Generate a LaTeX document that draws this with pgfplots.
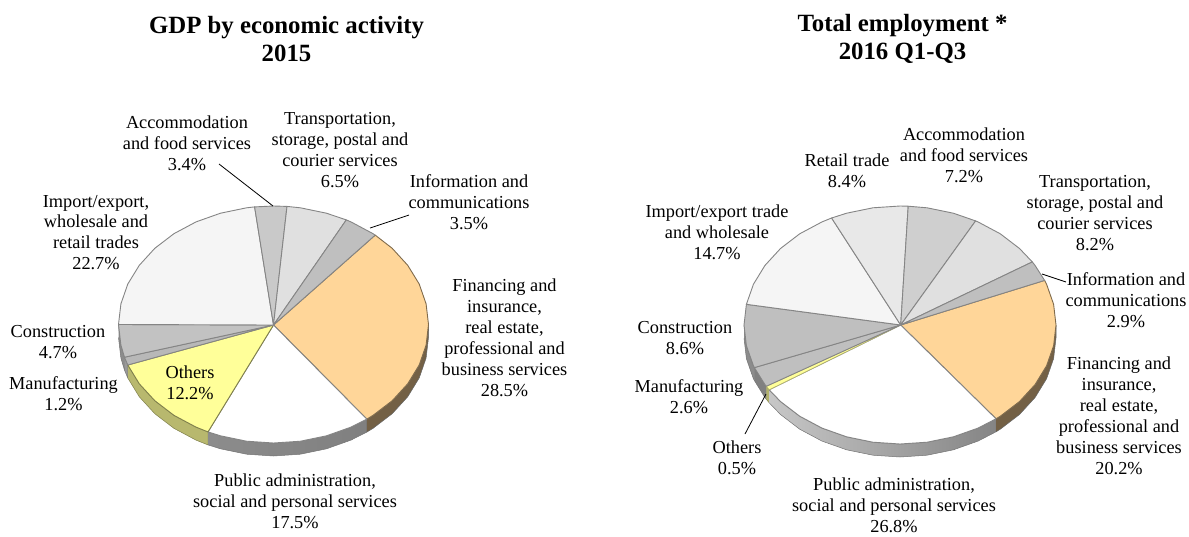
\documentclass[border=0pt]{standalone}
\usepackage{fontspec}
\setmainfont{Liberation Serif}
\usepackage{pgfplots}
\pgfplotsset{compat=1.18}
\definecolor{cfin}{HTML}{FFD699}
\definecolor{coth}{HTML}{FFFF99}
\tikzset{lab/.style={align=center,font=\fontsize{18.3}{20.9}\selectfont,inner sep=0pt,anchor=center},
  ttl/.style={align=center,font=\fontsize{24.8}{28}\selectfont\bfseries,inner sep=0pt,anchor=center}}
\pgfplotsset{face/.style={fill=#1,draw=black!48,line width=0.9pt,line join=round},
  rim/.style={draw=black!55,line width=0.5pt,line join=round}}
\begin{document}
\begin{tikzpicture}
\path[use as bounding box] (0,0) rectangle (1189pt,536pt);
\begin{axis}[width=1189pt,height=536pt,scale only axis,at={(0,0)},anchor=south west,
  xmin=0,xmax=1189,ymin=0,ymax=536,y dir=reverse,hide axis,clip=false]
% --- left pie: side wall
\addplot[rim,fill=black!45] coordinates {(118.5,324.5)(120.9,345.1)(124.5,357.2)(124.5,370.2)(120.9,358.1)(118.5,337.5)};
\addplot[rim,fill=black!40] coordinates {(124.5,357.2)(127.8,365)(127.8,378)(124.5,370.2)};
\addplot[draw=black!50!coth,line width=0.5pt,fill=coth!72!black] coordinates {(127.8,365)(139.3,383.8)(154.8,400.7)(173.9,415.3)(196,427.1)(208,431.9)(208,444.9)(196,440.1)(173.9,428.3)(154.8,413.7)(139.3,396.8)(127.8,378)};
\addplot[rim,shade,left color=black!45,middle color=black!65,right color=black!50] coordinates {(208,431.9)(220.5,435.8)(246.6,441.2)(273.5,443)(300.4,441.2)(326.5,435.8)(351,427.1)(366.8,419.1)(366.8,432.1)(351,440.1)(326.5,448.8)(300.4,454.2)(273.5,456)(246.6,454.2)(220.5,448.8)(208,444.9)};
\addplot[draw=black!60,line width=0.5pt,fill=cfin!45!black] coordinates {(366.8,419.1)(373.1,415.3)(392.2,400.7)(407.7,383.8)(419.2,365)(426.1,345.1)(428.5,324.5)(428.5,337.5)(426.1,358.1)(419.2,378)(407.7,396.8)(392.2,413.7)(373.1,428.3)(366.8,432.1)};
% --- left pie: top faces
\addplot[face=cfin,draw=cfin!50!black] coordinates {(273.5,325)(375.2,235.1)(392.2,248.3)(407.7,265.3)(419.2,284)(426.1,303.9)(428.5,324.5)(426.1,345.1)(419.2,365)(407.7,383.8)(392.2,400.7)(373.1,415.3)(366.8,419.1)(273.5,325)};
\addplot[face=white] coordinates {(273.5,325)(366.8,419.1)(351,427.1)(326.5,435.8)(300.4,441.2)(273.5,443)(246.6,441.2)(220.5,435.8)(208,431.9)(273.5,325)};
\addplot[face=coth,draw=coth!50!black] coordinates {(273.5,325)(208,431.9)(196,427.1)(173.9,415.3)(154.8,400.7)(139.3,383.8)(127.8,365)(273.5,325)};
\addplot[face=black!28] coordinates {(273.5,325)(127.8,365)(124.5,357.2)(273.5,325)};
\addplot[face=black!24] coordinates {(273.5,325)(124.5,357.2)(120.9,345.1)(118.5,324.5)(273.5,325)};
\addplot[face=black!4] coordinates {(273.5,325)(118.5,324.5)(120.9,303.9)(127.8,284)(139.3,265.3)(154.8,248.3)(173.9,233.7)(196,221.9)(220.5,213.2)(246.6,207.8)(254.6,206.9)(273.5,325)};
\addplot[face=black!21] coordinates {(273.5,325)(254.6,206.9)(273.5,206)(287,206.4)(273.5,325)};
\addplot[face=black!12] coordinates {(273.5,325)(287,206.4)(300.4,207.8)(326.5,213.2)(346.3,219.9)(273.5,325)};
\addplot[face=black!25] coordinates {(273.5,325)(346.3,219.9)(351,221.9)(373.1,233.7)(375.2,235.1)(273.5,325)};
% --- right pie: side wall
\addplot[rim,fill=black!45] coordinates {(744,325)(746.4,345.7)(753.4,365.7)(754.4,367.6)(754.4,380.6)(753.4,378.7)(746.4,358.7)(744,338)};
\addplot[rim,fill=black!50] coordinates {(754.4,367.6)(764.9,384.5)(766.3,386.3)(766.3,399.3)(764.9,397.5)(754.4,380.6)};
\addplot[draw=black!50!coth,line width=0.4pt,fill=coth!70!black] coordinates {(766.3,386.3)(769.2,389.8)(769.2,402.8)(766.3,399.3)};
\addplot[rim,shade,left color=black!22,middle color=black!62,right color=black!48] coordinates {(769.2,389.8)(780.5,401.5)(799.7,416.2)(822,428.1)(846.6,436.8)(872.9,442.2)(900,444)(927.1,442.2)(953.4,436.8)(978,428.1)(996,418.8)(996,431.8)(978,441.1)(953.4,449.8)(927.1,455.2)(900,457)(872.9,455.2)(846.6,449.8)(822,441.1)(799.7,429.2)(780.5,414.5)(769.2,402.8)};
\addplot[draw=black!60,line width=0.5pt,fill=cfin!45!black] coordinates {(996,418.8)(1000.3,416.2)(1019.5,401.5)(1035.1,384.5)(1046.6,365.7)(1053.6,345.7)(1056,325)(1056,338)(1053.6,358.7)(1046.6,378.7)(1035.1,397.5)(1019.5,414.5)(1000.3,429.2)(996,431.8)};
% --- right pie: top faces
\addplot[face=cfin,draw=cfin!50!black] coordinates {(900.7,325)(1044.6,280.4)(1046.6,284.3)(1053.6,304.3)(1056,325)(1053.6,345.7)(1046.6,365.7)(1035.1,384.5)(1019.5,401.5)(1000.3,416.2)(996,418.8)(900.7,325)};
\addplot[face=white] coordinates {(900.7,325)(996,418.8)(978,428.1)(953.4,436.8)(927.1,442.2)(900,444)(872.9,442.2)(846.6,436.8)(822,428.1)(799.7,416.2)(780.5,401.5)(769.2,389.8)(900.7,325)};
\addplot[fill=coth,draw=black!30!coth,line width=0.6pt] coordinates {(900.7,325)(769.2,389.8)(766.3,386.3)(900.7,325)};
\addplot[face=black!25] coordinates {(900.7,325)(766.3,386.3)(764.9,384.5)(754.4,367.6)(900.7,325)};
\addplot[face=black!25] coordinates {(900.7,325)(754.4,367.6)(753.4,365.7)(746.4,345.7)(744,325)(746.4,304.3)(900.7,325)};
\addplot[face=black!4] coordinates {(900.7,325)(746.4,304.3)(753.4,284.3)(764.9,265.5)(780.5,248.5)(799.7,233.8)(822,221.9)(831.6,218)(900.7,325)};
\addplot[face=black!9] coordinates {(900.7,325)(831.6,218)(846.6,213.2)(872.9,207.8)(900,206)(908.2,206.2)(900.7,325)};
\addplot[face=black!19] coordinates {(900.7,325)(908.2,206.2)(927.1,207.8)(953.4,213.2)(975.6,220.9)(900.7,325)};
\addplot[face=black!12] coordinates {(900.7,325)(975.6,220.9)(978,221.9)(1000.3,233.8)(1019.5,248.5)(1032.3,261.9)(900.7,325)};
\addplot[face=black!25] coordinates {(900.7,325)(1032.3,261.9)(1035.1,265.5)(1044.6,280.4)(900.7,325)};
% --- leader lines
\addplot[black,line width=0.8pt] coordinates {(219,164)(273,206)};
\addplot[black,line width=0.8pt] coordinates {(370,228)(409,215)};
\addplot[black,line width=0.8pt] coordinates {(1042,274)(1066,282)};
\addplot[black,line width=0.8pt] coordinates {(766,394)(745,434)};
% --- titles
\node[ttl] at (axis cs:286.5,39) {GDP by economic activity\\2015};
\node[ttl] at (axis cs:902.5,39) {Total employment *\\2016 Q1-Q3};
% --- left labels
\node[lab] at (axis cs:187,143) {Accommodation\\and food services\\3.4\%};
\node[lab] at (axis cs:340,150) {Transportation,\\storage, postal and\\courier services\\6.5\%};
\node[lab] at (axis cs:469,202) {Information and\\communications\\3.5\%};
\node[lab] at (axis cs:96,232.5) {Import/export,\\wholesale and\\retail trades\\22.7\%};
\node[lab] at (axis cs:58,342) {Construction\\4.7\%};
\node[lab] at (axis cs:63.5,394) {Manufacturing\\1.2\%};
\node[lab] at (axis cs:190,383) {Others\\12.2\%};
\node[lab] at (axis cs:504.5,338) {Financing and\\insurance,\\real estate,\\professional and\\business services\\28.5\%};
\node[lab] at (axis cs:295,501) {Public administration,\\social and personal services\\17.5\%};
% --- right labels
\node[lab] at (axis cs:847,171) {Retail trade\\8.4\%};
\node[lab] at (axis cs:964,155) {Accommodation\\and food services\\7.2\%};
\node[lab] at (axis cs:1095,213) {Transportation,\\storage, postal and\\courier services\\8.2\%};
\node[lab] at (axis cs:1126,300) {Information and\\communications\\2.9\%};
\node[lab] at (axis cs:717,232) {Import/export trade\\and wholesale\\14.7\%};
\node[lab] at (axis cs:685,338) {Construction\\8.6\%};
\node[lab] at (axis cs:689,397) {Manufacturing\\2.6\%};
\node[lab] at (axis cs:737,458) {Others\\0.5\%};
\node[lab] at (axis cs:1119,416) {Financing and\\insurance,\\real estate,\\professional and\\business services\\20.2\%};
\node[lab] at (axis cs:894,505.5) {Public administration,\\social and personal services\\26.8\%};
\end{axis}
\end{tikzpicture}
\end{document}
